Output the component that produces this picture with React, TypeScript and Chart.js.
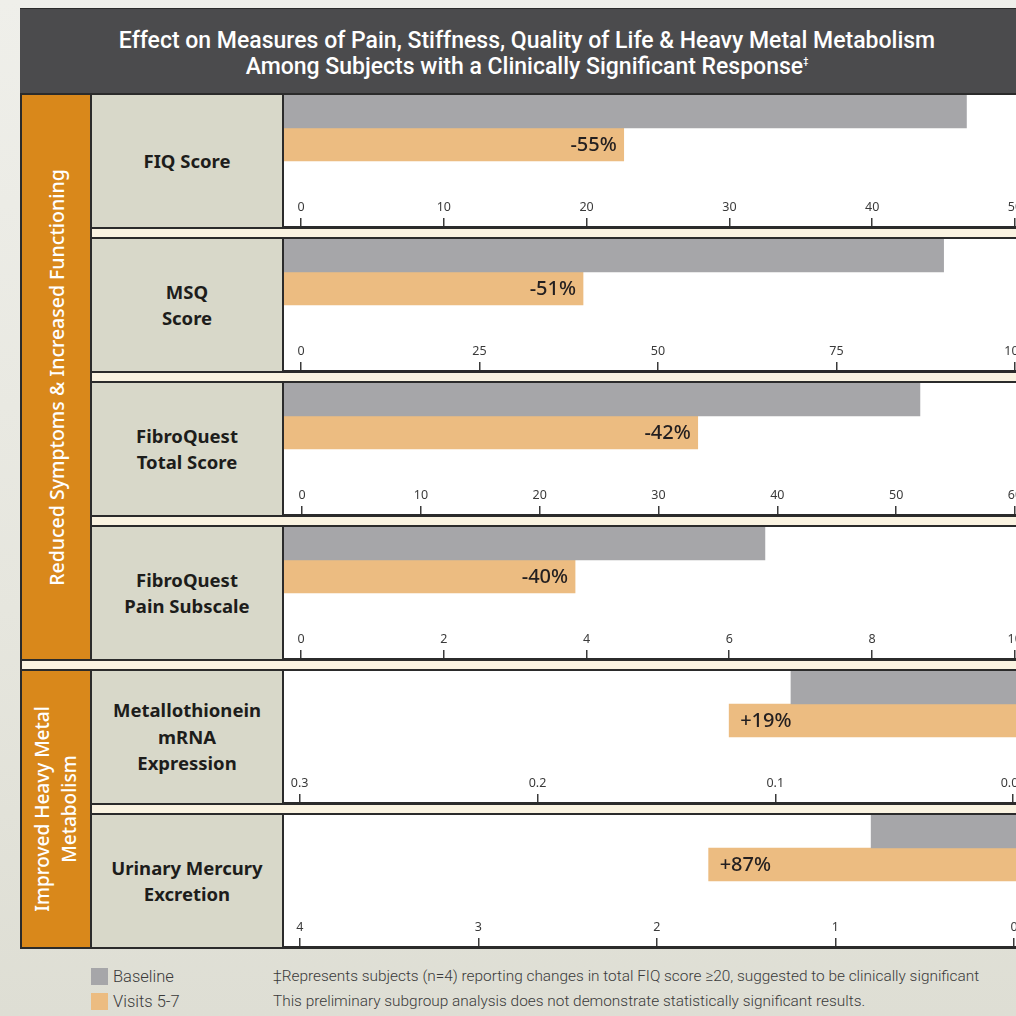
import React, { useEffect, useRef } from 'react';
import { Chart, registerables } from 'chart.js';

Chart.register(...registerables);

// ---------- data ----------
const titleLines = [
  'Effect on Measures of Pain, Stiffness, Quality of Life & Heavy Metal Metabolism',
  'Among Subjects with a Clinically Significant Response',
];
const groupLabels = [
  ['Reduced Symptoms & Increased Functioning'],
  ['Improved Heavy Metal', 'Metabolism'],
];
const rowLabels = [
  ['FIQ Score'],
  ['MSQ', 'Score'],
  ['FibroQuest', 'Total Score'],
  ['FibroQuest', 'Pain Subscale'],
  ['Metallothionein', 'mRNA', 'Expression'],
  ['Urinary Mercury', 'Excretion'],
];
const seriesNames = ['Baseline', 'Visits 5-7'];
const baselineValues = [46.6, 90.0, 52.0, 6.5, 0.0934, 0.8];
const visitsValues = [22.6, 39.5, 33.3, 3.84, 0.1194, 1.71];
const changeLabels = ['-55%', '-51%', '-42%', '-40%', '+19%', '+87%'];
const tickValues = [
  [0, 10, 20, 30, 40, 50],
  [0, 25, 50, 75, 100],
  [0, 10, 20, 30, 40, 50, 60],
  [0, 2, 4, 6, 8, 10],
  [0.3, 0.2, 0.1, 0],
  [4, 3, 2, 1, 0],
];
const tickLabels = [
  ['0', '10', '20', '30', '40', '50'],
  ['0', '25', '50', '75', '100'],
  ['0', '10', '20', '30', '40', '50', '60'],
  ['0', '2', '4', '6', '8', '10'],
  ['0.3', '0.2', '0.1', '0.00'],
  ['4', '3', '2', '1', '0'],
];
const axisMin = [-1.19, -2.38, -1.52, -0.238, -0.0088, -0.112];
const axisMax = [51.33, 102.66, 61.6, 10.27, 0.3066, 4.088];
const reversedAxis = [false, false, false, false, true, true];
const footnoteLines = [
  '\u2021Represents subjects (n=4) reporting changes in total FIQ score \u226520, suggested to be clinically significant',
  'This preliminary subgroup analysis does not demonstrate statistically significant results.',
];

// ---------- style ----------
const GREY = '#a6a6a9';
const ORANGE_BAR = '#ecbc81';
const ORANGE = '#d9881b';
const LABEL_BG = '#d8d8c9';
const CREAM = '#faf3e1';
const LINE = '#2b2b2b';
const TITLE_BG = '#4b4b4d';

const ROW_TOP0 = 93;
const ROW_PERIOD = 144;
const ROW_H = 136;
const CHART_LEFT = 284;
const CHART_W = 750;
// bar slots along the (hidden) index axis: slot 0 = baseline, slot 1 = visits
const SLOT_CENTERS = [0.5, 1.5];

function RowChart({ i }: { i: number }) {
  const ref = useRef<HTMLCanvasElement>(null);
  const h = ROW_H - 2;
  useEffect(() => {
    const canvas = ref.current;
    if (!canvas) return;
    const pctPlugin = {
      id: 'pctLabel',
      afterDatasetsDraw(chart: any) {
        const el: any = chart.getDatasetMeta(1).data[0];
        if (!el) return;
        const c = chart.ctx;
        c.save();
        c.font = '500 20px "Noto Sans"';
        c.fillStyle = '#231f20';
        c.textBaseline = 'middle';
        const rev = reversedAxis[i];
        c.textAlign = rev ? 'left' : 'right';
        c.fillText(changeLabels[i], rev ? el.x + 11 : el.x - 7, el.y + 1);
        c.restore();
      },
    };
    const mk = (k: number, v: number, color: string) =>
      ({
        label: seriesNames[k],
        data: [{ x: v, y: SLOT_CENTERS[k] }],
        backgroundColor: color,
        base: axisMin[i],
        grouped: false,
        barPercentage: 1,
        categoryPercentage: 1,
      }) as any;
    const chart = new Chart(canvas, {
      type: 'bar',
      data: {
        datasets: [mk(0, baselineValues[i], GREY), mk(1, visitsValues[i], ORANGE_BAR)],
      },
      options: {
        indexAxis: 'y',
        animation: false,
        responsive: false,
        maintainAspectRatio: false,
        layout: { padding: 0 },
        plugins: { legend: { display: false }, tooltip: { enabled: false } },
        scales: {
          y: {
            type: 'linear',
            min: 0,
            max: 4,
            reverse: true,
            display: false,
            offset: false,
            bounds: 'data',
            grace: 0,
          } as any,
          x: {
            type: 'linear',
            min: axisMin[i],
            max: axisMax[i],
            reverse: reversedAxis[i],
            position: 'bottom',
            offset: false,
            afterBuildTicks: (s: any) => {
              s.ticks = tickValues[i].map((v) => ({ value: v }));
            },
            afterFit: (s: any) => {
              s.height = 2;
            },
            border: { display: true, color: LINE, width: 2 },
            grid: {
              drawOnChartArea: false,
              drawTicks: true,
              tickLength: -9,
              color: '#3a3a3a',
              lineWidth: 1.5,
            },
            ticks: {
              mirror: true,
              padding: 0,
              autoSkip: false,
              maxRotation: 0,
              minRotation: 0,
              color: '#3a3a3a',
              font: { family: '"Noto Sans"', size: 12.5, lineHeight: '40px' },
              callback: (v: any) => {
                const k = tickValues[i].indexOf(Number(v));
                return k >= 0 ? tickLabels[i][k] : '';
              },
            },
          } as any,
        },
      },
      plugins: [pctPlugin],
    });
    return () => chart.destroy();
  }, [i]);
  return (
    <canvas
      ref={ref}
      width={CHART_W}
      height={h}
      style={{ position: 'absolute', left: 0, top: 0, width: CHART_W, height: h, display: 'block' }}
    />
  );
}

export default function App() {
  const groups = [
    { top: ROW_TOP0, bottom: ROW_TOP0 + ROW_PERIOD * 3 + ROW_H, size: 19.5 },
    { top: ROW_TOP0 + ROW_PERIOD * 4, bottom: ROW_TOP0 + ROW_PERIOD * 5 + ROW_H, size: 19 },
  ];
  return (
    <div
      style={{
        position: 'fixed',
        left: 0,
        top: 0,
        width: 1016,
        height: 1016,
        overflow: 'hidden',
        background: 'linear-gradient(180deg, #efefea 0%, #e6e6de 60%, #deded4 100%)',
        fontFamily: '"Noto Sans", sans-serif',
      }}
    >
      {/* title bar */}
      <div
        style={{
          position: 'absolute',
          left: 20,
          top: 8,
          width: 1014,
          height: 86,
          background: TITLE_BG,
          borderTop: `1px solid ${LINE}`,
          boxSizing: 'border-box',
          color: '#ffffff',
          display: 'flex',
          flexDirection: 'column',
          alignItems: 'center',
          justifyContent: 'center',
          paddingTop: 4,
          fontFamily: 'Roboto, sans-serif',
          fontWeight: 500,
          fontSize: 23,
          lineHeight: '26px',
        }}
      >
        <div style={{ whiteSpace: 'nowrap' }}>{titleLines[0]}</div>
        <div style={{ whiteSpace: 'nowrap' }}>
          {titleLines[1]}
          <sup style={{ fontSize: 9, verticalAlign: 'top', lineHeight: '14px' }}>{'\u2021'}</sup>
        </div>
      </div>

      {/* frame background (separators) */}
      <div
        style={{
          position: 'absolute',
          left: 20,
          top: ROW_TOP0,
          width: 1014,
          height: ROW_PERIOD * 5 + ROW_H,
          background: CREAM,
          borderLeft: `2px solid ${LINE}`,
          boxSizing: 'border-box',
        }}
      />

      {/* group blocks */}
      {groups.map((g, gi) => (
        <div
          key={'g' + gi}
          style={{
            position: 'absolute',
            left: 20,
            top: g.top,
            width: 72,
            height: g.bottom - g.top,
            background: ORANGE,
            border: `2px solid ${LINE}`,
            boxSizing: 'border-box',
            display: 'flex',
            alignItems: 'center',
            justifyContent: 'center',
          }}
        >
          <div
            style={{
              transform: 'rotate(-90deg)',
              whiteSpace: 'nowrap',
              textAlign: 'center',
              color: '#ffffff',
              fontSize: g.size,
              lineHeight: '27px',
              fontWeight: 500,
            }}
          >
            {groupLabels[gi].map((t, k) => (
              <div key={k}>{t}</div>
            ))}
          </div>
        </div>
      ))}

      {/* rows */}
      {rowLabels.map((lines, i) => {
        const top = ROW_TOP0 + ROW_PERIOD * i;
        return (
          <div
            key={'r' + i}
            style={{
              position: 'absolute',
              left: 90,
              top,
              width: 944,
              height: ROW_H,
              borderTop: `2px solid ${LINE}`,
              borderBottom: `2px solid ${LINE}`,
              borderLeft: `2px solid ${LINE}`,
              boxSizing: 'border-box',
              background: '#ffffff',
            }}
          >
            <div
              style={{
                position: 'absolute',
                left: 0,
                top: 0,
                width: 192,
                height: ROW_H - 4,
                background: LABEL_BG,
                borderRight: `2px solid ${LINE}`,
                boxSizing: 'border-box',
                display: 'flex',
                flexDirection: 'column',
                alignItems: 'center',
                justifyContent: 'center',
                color: '#1d1d1b',
                fontWeight: 700,
                fontSize: 18.5,
                lineHeight: '26.5px',
                textAlign: 'center',
              }}
            >
              {lines.map((t, k) => (
                <div key={k} style={{ whiteSpace: 'nowrap' }}>{t}</div>
              ))}
            </div>
            <div
              style={{
                position: 'absolute',
                left: CHART_LEFT - 92,
                top: 0,
                width: CHART_W,
                height: ROW_H - 2,
              }}
            >
              <RowChart i={i} />
            </div>
          </div>
        );
      })}

      {/* legend */}
      {seriesNames.map((name, k) => (
        <div
          key={'l' + k}
          style={{
            position: 'absolute',
            left: 91,
            top: 968 + k * 25,
            height: 17,
            display: 'flex',
            alignItems: 'center',
            fontFamily: 'Roboto, sans-serif',
            fontWeight: 300,
            fontSize: 16.5,
            color: '#3a3a3a',
            whiteSpace: 'nowrap',
          }}
        >
          <span
            style={{
              display: 'inline-block',
              width: 17,
              height: 17,
              background: k === 0 ? GREY : ORANGE_BAR,
              marginRight: 5,
            }}
          />
          {name}
        </div>
      ))}

      {/* footnotes */}
      {footnoteLines.map((t, k) => (
        <div
          key={'f' + k}
          style={{
            position: 'absolute',
            left: 273,
            top: 968 + k * 25,
            height: 17,
            lineHeight: '17px',
            fontFamily: 'Roboto, sans-serif',
            fontWeight: 300,
            fontSize: 15.4,
            color: '#3a3a3a',
            whiteSpace: 'nowrap',
          }}
        >
          {t}
        </div>
      ))}
    </div>
  );
}
